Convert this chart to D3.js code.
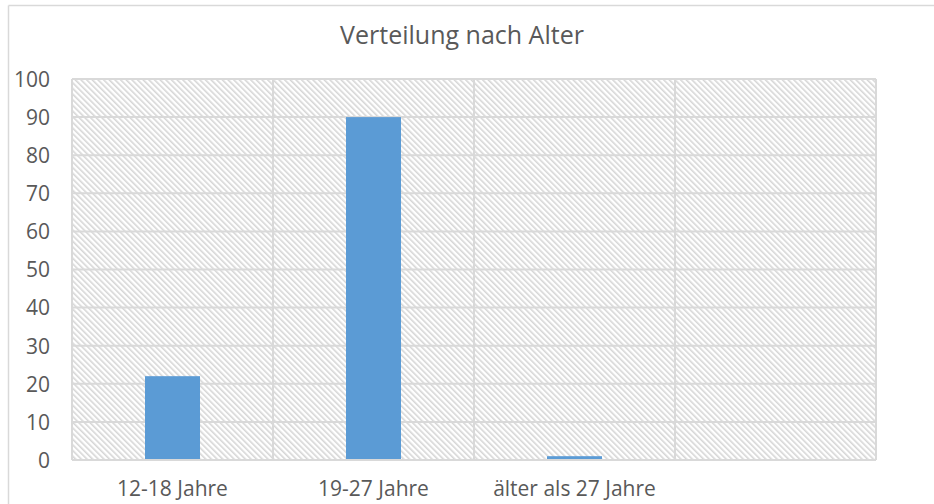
<!DOCTYPE html>
<html>
<head>
<meta charset="utf-8">
<script src="https://cdn.jsdelivr.net/npm/d3@7"></script>
<style>
  html, body { margin: 0; padding: 0; background: #fff; }
  svg { display: block; }
  text { font-family: "Open Sans", Lato, sans-serif; }
</style>
</head>
<body>
<svg id="chart" width="934" height="504"></svg>
<script>
const title = "Verteilung nach Alter";
const categories = ["12-18 Jahre", "19-27 Jahre", "älter als 27 Jahre", ""];
const values = [22, 90, 1, null];
const yTicks = [0, 10, 20, 30, 40, 50, 60, 70, 80, 90, 100];

const svg = d3.select("#chart");
const W = 934, H = 504;
const plot = { left: 72, right: 876, top: 79, bottom: 460 };
const FONT = "'Open Sans', Lato, sans-serif";

const defs = svg.append("defs");
const pat = defs.append("pattern")
  .attr("id", "hatch")
  .attr("patternUnits", "userSpaceOnUse")
  .attr("width", 4)
  .attr("height", 10)
  .attr("patternTransform", "rotate(-45)");
pat.append("rect").attr("width", 4).attr("height", 10).attr("fill", "#ffffff");
pat.append("rect").attr("width", 1.6).attr("height", 10).attr("fill", "#d6d6d6");

// chart area border (top & left visible)
svg.append("line").attr("x1", 8.5).attr("y1", 5.5).attr("x2", W).attr("y2", 5.5)
  .attr("stroke", "#d9d9d9").attr("stroke-width", 1.5);
svg.append("line").attr("x1", 8.5).attr("y1", 5.5).attr("x2", 8.5).attr("y2", H)
  .attr("stroke", "#d9d9d9").attr("stroke-width", 1.5);

const x = d3.scaleBand().domain(categories.map((c, i) => i))
  .range([plot.left, plot.right]).paddingInner(0).paddingOuter(0);
const y = d3.scaleLinear().domain([0, 100]).range([plot.bottom, plot.top]);

// plot background hatch
svg.append("rect")
  .attr("x", plot.left).attr("y", plot.top)
  .attr("width", plot.right - plot.left).attr("height", plot.bottom - plot.top)
  .attr("fill", "url(#hatch)");

// horizontal gridlines
svg.append("g").selectAll("line").data(yTicks).join("line")
  .attr("x1", plot.left).attr("x2", plot.right)
  .attr("y1", d => y(d)).attr("y2", d => y(d))
  .attr("stroke", "#d9d9d9").attr("stroke-width", 2);

// vertical gridlines (category boundaries)
const bounds = categories.map((c, i) => x(i)).concat([plot.right]);
svg.append("g").selectAll("line").data(bounds).join("line")
  .attr("x1", d => d).attr("x2", d => d)
  .attr("y1", plot.top).attr("y2", plot.bottom)
  .attr("stroke", "#d9d9d9").attr("stroke-width", 2);

// bars
const barW = 55;
svg.append("g").selectAll("rect").data(values.map((v, i) => ({ v, i })).filter(d => d.v != null))
  .join("rect")
  .attr("x", d => x(d.i) + x.bandwidth() / 2 - barW / 2)
  .attr("width", barW)
  .attr("y", d => y(d.v))
  .attr("height", d => y(0) - y(d.v))
  .attr("fill", "#5b9bd5");

// axis line at bottom
svg.append("line").attr("x1", plot.left).attr("x2", plot.right)
  .attr("y1", y(0)).attr("y2", y(0))
  .attr("stroke", "#d9d9d9").attr("stroke-width", 2);

// y axis labels
const yAxis = d3.axisLeft(y).tickValues(yTicks).tickSize(0).tickPadding(0);
const gy = svg.append("g").attr("transform", `translate(${plot.left - 22},0)`).call(yAxis);
gy.select(".domain").remove();
gy.selectAll("text").attr("font-size", 21).attr("fill", "#595959")
  .attr("font-family", FONT).attr("dy", "0.35em");

// x axis labels
const xAxis = d3.axisBottom(x).tickFormat(i => categories[i]).tickSize(0).tickPadding(0);
const gx = svg.append("g").attr("transform", `translate(0,${plot.bottom + 20})`).call(xAxis);
gx.select(".domain").remove();
gx.selectAll("text").attr("font-size", 21).attr("fill", "#595959")
  .attr("font-family", FONT).attr("dy", "0.75em");

// title
svg.append("text").attr("x", 462).attr("y", 44)
  .attr("text-anchor", "middle").attr("font-size", 25).attr("fill", "#595959")
  .attr("font-family", FONT)
  .text(title);
</script>
</body>
</html>
